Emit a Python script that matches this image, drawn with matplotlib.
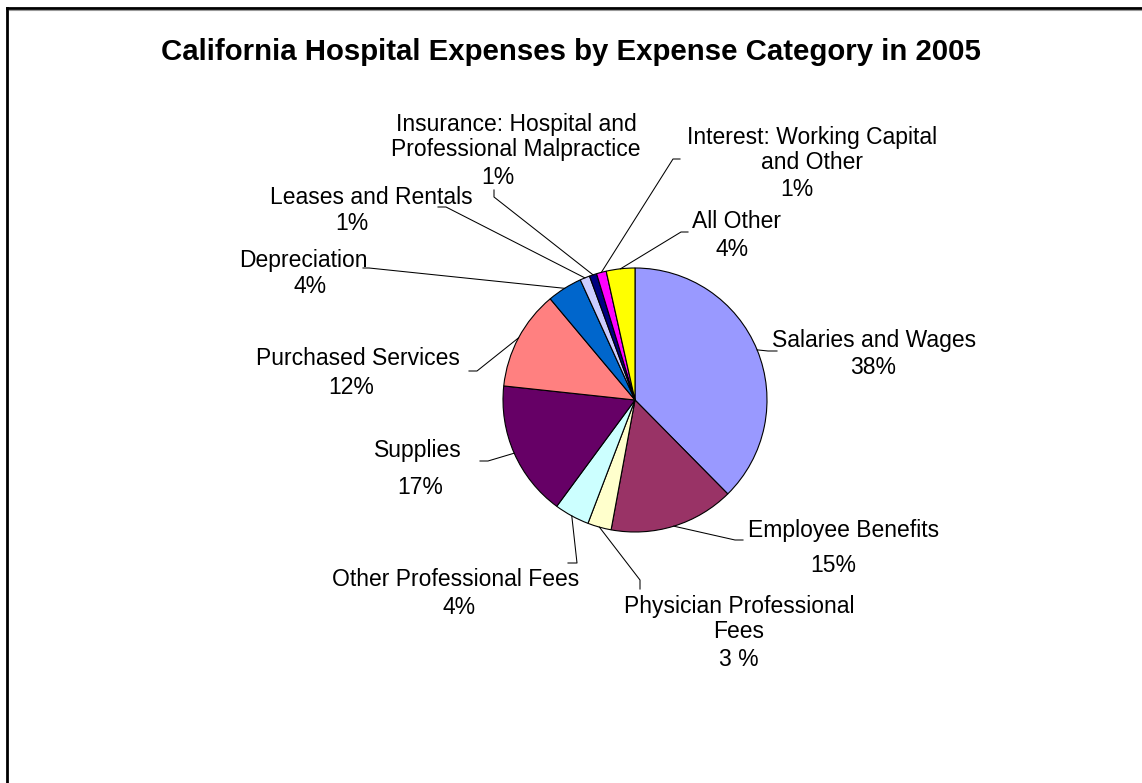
import numpy as np
import matplotlib.pyplot as plt
from matplotlib.lines import Line2D

plt.rcParams['font.family'] = ['Liberation Sans', 'DejaVu Sans']

# expense categories and their share of total spending (%)
categories = [
    'Salaries and Wages', 'Employee Benefits', 'Physician Professional\nFees',
    'Other Professional Fees', 'Supplies', 'Purchased Services', 'Depreciation',
    'Leases and Rentals', 'Insurance: Hospital and\nProfessional Malpractice',
    'Interest: Working Capital\nand Other', 'All Other',
]
shares = [37.6, 15.3, 2.9, 4.3, 16.6, 12.2, 4.3, 1.2, 0.9, 1.2, 3.5]
colors = [
    '#9999FF', '#993366', '#FFFFCC', '#CCFFFF', '#660066', '#FF8080',
    '#0066CC', '#CCCCFF', '#000080', '#FF00FF', '#FFFF00',
]

W, H = 1142, 783
CX, CY, R = 635, 400, 132  # pie centre and radius in pixels


def px(x, y):
    # pixel position -> data coords of the pie axes
    return (x - CX) / R, (CY - y) / R


# label placement in pixels: name centre, percent centre, leader elbow, leader end
layout = [
    dict(name=(874, 341), pct=(873, 368), elbow=(768, 351), end=(777, 351)),
    dict(name=(844, 530), pct=(833, 566), elbow=(735, 540), end=(743, 540)),
    dict(name=(739, 619), pct=(739, 660), elbow=(640, 580), end=(640, 589), gap=' '),
    dict(name=(456, 580), pct=(459, 607), elbow=(577, 563), end=(568, 563)),
    dict(name=(418, 451), pct=(420, 488), elbow=(488, 461), end=(480, 461)),
    dict(name=(358, 359), pct=(351, 388), elbow=(477, 371), end=(469, 371)),
    dict(name=(303, 260), pct=(310, 287), elbow=(369, 268), end=(363, 268)),
    dict(name=(371, 197), pct=(352, 224), elbow=(446, 207), end=(438, 207)),
    dict(name=(516, 137), pct=(498, 177), elbow=(494, 197), end=(494, 190)),
    dict(name=(812, 150), pct=(797, 190), elbow=(673, 159), end=(680, 159)),
    dict(name=(737, 222), pct=(732, 249), elbow=(681, 232), end=(688, 232)),
]

fig = plt.figure(figsize=(W / 100, H / 100), dpi=100)
ax = fig.add_axes([0, 0, 1, 1])

wedges, _ = ax.pie(shares, colors=colors, startangle=90, counterclock=False,
                   radius=1, wedgeprops=dict(edgecolor='black', linewidth=0.8))
ax.set_xlim(-CX / R, (W - CX) / R)
ax.set_ylim(-(H - CY) / R, CY / R)
ax.axis('off')

for w, cat, val, lay in zip(wedges, categories, shares, layout):
    # leader runs from the rim at the wedge's mid-angle to the label
    mid = np.deg2rad((w.theta1 + w.theta2) / 2)
    x0, y0 = np.cos(mid), np.sin(mid)
    ex, ey = px(*lay['elbow'])
    tx, ty = px(*lay['end'])
    ax.plot([x0, ex, tx], [y0, ey, ty], color='black', lw=0.75)
    ax.text(*px(*lay['name']), cat, ha='center', va='center', fontsize=16.5,
            linespacing=1.16)
    ax.text(*px(*lay['pct']), f"{val:.0f}{lay.get('gap', '')}%", ha='center',
            va='center', fontsize=16.5)

fig.text(571 / W, 1 - 52 / H, 'California Hospital Expenses by Expense Category in 2005',
         ha='center', va='center', fontsize=21.2, fontweight='bold')

# chart border (top and left edges)
fig.add_artist(Line2D([7 / W, 1], [1 - 8 / H] * 2, transform=fig.transFigure,
                      color='black', lw=2))
fig.add_artist(Line2D([7 / W] * 2, [0, 1 - 8 / H], transform=fig.transFigure,
                      color='black', lw=2))
fig.add_artist(Line2D([9 / W, 1], [1 - 10 / H] * 2, transform=fig.transFigure,
                      color='#999999', lw=0.8))

fig.savefig('out.png', dpi=100)
